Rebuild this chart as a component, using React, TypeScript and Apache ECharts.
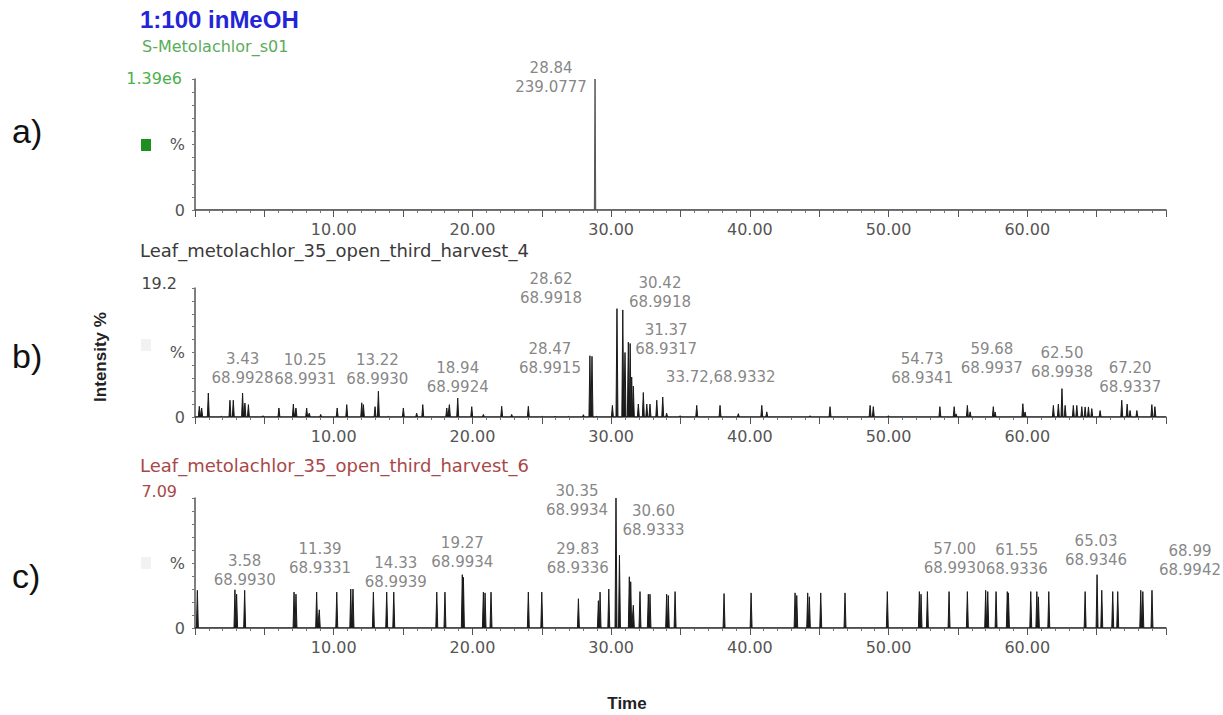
import React, { useEffect, useRef } from 'react';
import * as echarts from 'echarts';

// ---------- data ----------
const X_MIN = 0;
const X_MAX = 70;
const xLabelValues = [10, 20, 30, 40, 50, 60];

const titleMain = '1:100 inMeOH';
const titleA = 'S-Metolachlor_s01';
const titleB = 'Leaf_metolachlor_35_open_third_harvest_4';
const titleC = 'Leaf_metolachlor_35_open_third_harvest_6';
const scaleA = '1.39e6';
const scaleB = '19.2';
const scaleC = '7.09';

// panel a
const aPeakTimes = [28.84];
const aPeakHeights = [100];
const aLabelTimes = [28.84];
const aLabelTexts = ['28.84\n239.0777'];

// panel b
const bPeakTimes = [
  0.31, 0.48, 0.96, 1.9, 2.52, 2.76, 3.43, 3.6, 3.85, 4.9, 6.05, 7.09, 7.28, 8.05, 8.24, 9.06,
  10.25, 10.94, 12.02, 12.14, 12.98, 13.22, 13.94, 15.02, 15.98, 16.42, 18.15, 18.34, 18.94,
  19.95, 20.79, 22.11, 22.83, 24.03, 25.04, 25.96, 26.91, 28.0, 28.47, 28.62, 28.96, 30.09,
  30.42, 30.84, 31.0, 31.24, 31.37, 31.48, 31.6, 31.96, 32.32, 32.57, 32.8, 33.29, 33.72, 34.0,
  34.97, 36.17, 37.85, 39.17, 40.86, 41.22, 44.34, 45.78, 48.67, 48.9, 49.99, 53.7, 54.73,
  54.87, 55.68, 55.88, 57.55, 57.68, 59.68, 59.84, 61.88, 62.24, 62.5, 62.73, 63.32, 63.57,
  63.93, 64.17, 64.41, 64.65, 65.25, 66.81, 67.2, 67.41, 67.9, 68.98, 69.2,
];
const bPeakHeights = [
  8.3, 7, 18.6, 0.5, 13, 13, 18.6, 10.8, 9.6, 1, 7, 10, 7, 7, 3, 2,
  7, 9.6, 11, 9.6, 8, 20, 0.5, 7, 3, 9.6, 7, 9.6, 14.7,
  8, 2, 8.3, 2, 8.3, 0.5, 0.5, 0.5, 1.8, 47.5, 47, 0.5, 9,
  84, 83, 50, 58, 57, 31, 24, 10, 19, 10, 10, 13, 15.5, 3,
  1, 9, 9, 2.6, 9, 4, 1, 8, 9, 8, 1, 8, 8,
  2.4, 9, 4, 8, 3.9, 10.3, 3.9, 9, 10, 22, 9, 9, 9,
  8, 7.8, 7.8, 6.5, 5, 13, 10, 5, 5, 9.6, 8,
];
const bLabelTimes = [3.43, 10.25, 13.22, 18.94, 28.47, 28.62, 30.42, 31.37, 33.72, 54.73, 59.68, 62.5, 67.2];
const bLabelTexts = [
  '3.43\n68.9928', '10.25\n68.9931', '13.22\n68.9930', '18.94\n68.9924', '28.47\n68.9915',
  '28.62\n68.9918', '30.42\n68.9918', '31.37\n68.9317', '33.72,68.9332', '54.73\n68.9341',
  '59.68\n68.9937', '62.50\n68.9938', '67.20\n68.9337',
];

// panel c
const cPeakTimes = [
  0.17, 2.88, 3.0, 3.58, 7.14, 7.28, 8.77, 8.96, 10.22, 11.23, 11.39, 12.86, 13.82, 14.33,
  17.43, 18.02, 19.27, 19.35, 20.79, 20.91, 21.34, 24.03, 25.0, 27.64, 29.08, 29.2, 29.83,
  30.35, 30.6, 31.31, 31.41, 31.6, 32.08, 32.68, 32.8, 34.0, 34.12, 34.61, 38.14, 40.09,
  43.26, 43.38, 44.17, 44.29, 45.11, 46.86, 49.91, 52.22, 52.34, 52.8, 54.36, 55.68, 57.0,
  57.15, 57.75, 58.56, 58.64, 60.25, 60.69, 60.8, 61.55, 64.17, 65.03, 65.37, 66.16, 66.52,
  68.18, 68.33, 68.99,
];
const cPeakHeights = [
  29, 29.4, 26, 29, 27.6, 26, 27.6, 14, 27.6, 30, 30, 27.6, 27.6, 27.6,
  27.6, 27.6, 41, 39, 27.6, 27, 27.6, 27.6, 27.6, 22.5, 21, 27.6, 30,
  100, 56, 39.4, 35.6, 17.5, 28, 26, 26, 26, 25, 28, 26.5, 27,
  27, 25, 27, 24, 27, 27, 28, 28, 26, 28, 28, 28, 29,
  28, 28, 28, 27, 28, 28, 24, 28, 28, 41, 29, 28, 28,
  29, 28, 29,
];
const cLabelTimes = [3.58, 11.39, 14.33, 19.27, 29.83, 30.35, 30.6, 57.0, 61.55, 65.03, 68.99];
const cLabelTexts = [
  '3.58\n68.9930', '11.39\n68.9331', '14.33\n68.9939', '19.27\n68.9934', '29.83\n68.9336',
  '30.35\n68.9934', '30.60\n68.9333', '57.00\n68.9930', '61.55\n68.9336', '65.03\n68.9346',
  '68.99\n68.9942',
];

// ---------- styling (label pixel offsets from peak apex) ----------
const aLabelOffsets = [[-44, 23]];
const bLabelOffsets = [
  [0, 0], [-32, -14], [-1, 3], [0, 3.5], [-40, 27], [-41, -43.5], [43, 8.5], [36, 21],
  [58, -5.5], [-32, -14], [-31, -21], [0, -2], [3, -2.5],
];
const cLabelOffsets = [
  [0, 4.5], [-33, -6.5], [2, 4.6], [0, 2], [-31, -6], [-39, 26.5], [34, -10.5], [-31, -7.5],
  [-32, -7.5], [-1, 0], [38, -5.5],
];

const FONT = '"DejaVu Sans", sans-serif';
const AXIS_COLOR = '#555';
const LABEL_COLOR = '#666';

function peakLine(times: number[], heights: number[], w: number) {
  const idx = times.map((_, i) => i).sort((a, b) => times[a] - times[b]);
  const data: number[][] = [[X_MIN, 0]];
  idx.forEach((i) => {
    const t = times[i];
    data.push([t - w, 0], [t, heights[i]], [t + w, 0]);
  });
  data.push([X_MAX, 0]);
  return data;
}

function nearestHeight(t: number, times: number[], heights: number[]) {
  let best = 0;
  times.forEach((tt, i) => {
    if (Math.abs(tt - t) < Math.abs(times[best] - t)) best = i;
  });
  return heights[best];
}

const grids = [
  { left: 195, top: 79, width: 971, height: 131 },
  { left: 195, top: 288, width: 971, height: 129 },
  { left: 195, top: 498, width: 971, height: 130 },
];

export default function App() {
  const ref = useRef<HTMLDivElement>(null);
  useEffect(() => {
    if (!ref.current) return;
    const chart = echarts.init(ref.current, null, { renderer: 'svg' });

    const panels = [
      { pt: aPeakTimes, ph: aPeakHeights, lt: aLabelTimes, lx: aLabelTexts, lo: aLabelOffsets, color: '#555', w: 0.05 },
      { pt: bPeakTimes, ph: bPeakHeights, lt: bLabelTimes, lx: bLabelTexts, lo: bLabelOffsets, color: '#1a1a1a', w: 0.07 },
      { pt: cPeakTimes, ph: cPeakHeights, lt: cLabelTimes, lx: cLabelTexts, lo: cLabelOffsets, color: '#1a1a1a', w: 0.07 },
    ];

    const xAxis = grids.map((_, i) => ({
      type: 'value',
      gridIndex: i,
      min: X_MIN,
      max: X_MAX,
      interval: 5,
      axisLine: { show: true, onZero: false, lineStyle: { color: AXIS_COLOR, width: 1.5 } },
      axisTick: { show: true, length: 7, lineStyle: { color: AXIS_COLOR, width: 1 } },
      minorTick: { show: true, splitNumber: 5, length: 3, lineStyle: { color: '#777', width: 1 } },
      splitLine: { show: false },
      minorSplitLine: { show: false },
      axisLabel: {
        margin: 11,
        fontFamily: FONT,
        fontSize: 16,
        color: AXIS_COLOR,
        formatter: (v: number) => (xLabelValues.includes(v) ? v.toFixed(2) : ''),
      },
    }));

    const yAxis = grids.map((_, i) => ({
      type: 'value',
      gridIndex: i,
      min: 0,
      max: 100,
      interval: 10,
      axisLine: { show: true, lineStyle: { color: AXIS_COLOR, width: 1.5 } },
      axisTick: { show: true, length: 3, lineStyle: { color: '#777' } },
      splitLine: { show: false },
      axisLabel: {
        margin: 10,
        fontFamily: FONT,
        fontSize: 16,
        color: AXIS_COLOR,
        formatter: (v: number) => (v === 0 ? '0' : v === 50 ? '%' : ''),
      },
    }));

    const series: any[] = [];
    panels.forEach((p, i) => {
      series.push({
        type: 'line',
        xAxisIndex: i,
        yAxisIndex: i,
        data: peakLine(p.pt, p.ph, p.w),
        symbol: 'none',
        showSymbol: false,
        silent: true,
        lineStyle: { color: p.color, width: 1 },
        areaStyle: { color: p.color, opacity: 1 },
        z: 3,
      });
      series.push({
        type: 'scatter',
        xAxisIndex: i,
        yAxisIndex: i,
        symbol: 'circle',
        symbolSize: 1,
        itemStyle: { color: 'rgba(0,0,0,0)' },
        silent: true,
        z: 4,
        data: p.lt.map((t, k) => ({
          value: [t, nearestHeight(t, p.pt, p.ph)],
          label: { offset: p.lo[k] },
        })),
        label: {
          show: true,
          position: 'top',
          distance: 5,
          align: 'center',
          fontFamily: FONT,
          fontSize: 15,
          lineHeight: 19,
          color: LABEL_COLOR,
          formatter: (prm: any) => p.lx[prm.dataIndex],
        },
      });
    });

    const graphic: any[] = [
      { type: 'text', x: 140, y: 19, style: { text: titleMain, font: 'bold 24px "Liberation Sans", Arial, sans-serif', fill: '#2424d8', verticalAlign: 'middle' } },
      { type: 'text', x: 142, y: 46, style: { text: titleA, font: `16px ${FONT}`, fill: '#5aac5a', verticalAlign: 'middle' } },
      { type: 'text', x: 182, y: 78, style: { text: scaleA, font: `16px ${FONT}`, fill: '#4caf4c', align: 'right', verticalAlign: 'middle' } },
      { type: 'text', x: 140, y: 250, style: { text: titleB, font: `18px ${FONT}`, fill: '#3a3a3a', verticalAlign: 'middle' } },
      { type: 'text', x: 177, y: 283, style: { text: scaleB, font: `16px ${FONT}`, fill: '#444', align: 'right', verticalAlign: 'middle' } },
      { type: 'text', x: 140, y: 465, style: { text: titleC, font: `18px ${FONT}`, fill: '#a84848', verticalAlign: 'middle' } },
      { type: 'text', x: 177, y: 491, style: { text: scaleC, font: `16px ${FONT}`, fill: '#a84848', align: 'right', verticalAlign: 'middle' } },
      { type: 'rect', shape: { x: 141, y: 139, width: 10, height: 12 }, style: { fill: '#1e8e1e' } },
      { type: 'rect', shape: { x: 141, y: 339, width: 10, height: 12 }, style: { fill: '#f2f2f2' } },
      { type: 'rect', shape: { x: 141, y: 557, width: 10, height: 12 }, style: { fill: '#f2f2f2' } },
      { type: 'text', x: 12, y: 131, style: { text: 'a)', font: '34px "Liberation Sans", Arial, sans-serif', fill: '#111', verticalAlign: 'middle' } },
      { type: 'text', x: 12, y: 356, style: { text: 'b)', font: '34px "Liberation Sans", Arial, sans-serif', fill: '#111', verticalAlign: 'middle' } },
      { type: 'text', x: 12, y: 576, style: { text: 'c)', font: '34px "Liberation Sans", Arial, sans-serif', fill: '#111', verticalAlign: 'middle' } },
      { type: 'text', x: 100, y: 357, rotation: Math.PI / 2, style: { text: 'Intensity %', font: 'bold 17px "Liberation Sans", Arial, sans-serif', fill: '#222', align: 'center', verticalAlign: 'middle' } },
      { type: 'text', x: 627, y: 703, style: { text: 'Time', font: 'bold 17px "Liberation Sans", Arial, sans-serif', fill: '#222', align: 'center', verticalAlign: 'middle' } },
    ];

    chart.setOption({
      animation: false,
      backgroundColor: '#ffffff',
      grid: grids,
      xAxis,
      yAxis,
      series,
      graphic,
    });
    return () => chart.dispose();
  }, []);

  return <div ref={ref} style={{ position: 'fixed', left: 0, top: 0, width: 1223, height: 715 }} />;
}
